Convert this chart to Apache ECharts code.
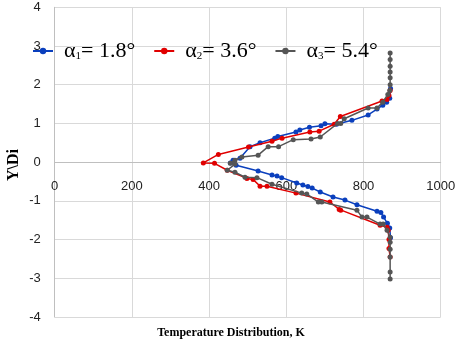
<!DOCTYPE html>
<html><head><meta charset="utf-8">
<script src="https://cdn.jsdelivr.net/npm/echarts@6/dist/echarts.min.js"></script>
<style>html,body{margin:0;padding:0;background:#fff}#c{width:459px;height:345px}</style>
</head><body><div id="c"></div>
<script>
const seriesNames = ['α1= 1.8°', 'α2= 3.6°', 'α3= 5.4°'];
const xTicks = [0, 200, 400, 600, 800, 1000];
const yTicks = [-4, -3, -2, -1, 0, 1, 2, 3, 4];

const tBlue = [870, 868, 860, 850, 835, 812, 770, 730, 700, 690, 660, 635, 625, 578, 570, 532, 506, 480, 462, 455, 470, 527, 563, 576, 588, 627, 643, 656, 667, 688, 721, 752, 783, 835, 845, 852, 862, 868, 870];
const yBlue = [1.9, 1.65, 1.55, 1.47, 1.37, 1.22, 1.08, 0.98, 0.99, 0.94, 0.9, 0.83, 0.78, 0.66, 0.62, 0.5, 0.4, 0.1, 0.05, -0.02, -0.08, -0.23, -0.33, -0.36, -0.4, -0.54, -0.59, -0.63, -0.67, -0.77, -0.9, -0.98, -1.1, -1.27, -1.3, -1.42, -1.58, -1.7, -1.95];

const tRed = [869, 866, 861, 848, 740, 724, 685, 661, 589, 563, 502, 424, 385, 414, 447, 498, 514, 532, 550, 625, 713, 737, 741, 843, 861, 864, 866, 866, 869];
const yRed = [1.85, 1.72, 1.62, 1.58, 1.18, 0.98, 0.8, 0.78, 0.62, 0.54, 0.39, 0.2, -0.02, -0.03, -0.21, -0.42, -0.45, -0.62, -0.62, -0.8, -1.03, -1.22, -1.24, -1.63, -1.68, -1.76, -2.0, -2.23, -2.45];

const tGray = [869, 869, 869, 869, 869, 869, 868, 863, 850, 835, 812, 750, 741, 733, 688, 664, 618, 580, 553, 527, 485, 467, 455, 467, 447, 467, 493, 524, 563, 640, 653, 683, 692, 783, 796, 809, 843, 851, 861, 869, 869, 869, 869, 869, 869];
const yGray = [2.82, 2.65, 2.48, 2.33, 2.18, 2.0, 1.85, 1.75, 1.55, 1.4, 1.4, 1.12, 1.0, 1.0, 0.65, 0.6, 0.58, 0.4, 0.4, 0.18, 0.13, 0.05, -0.03, -0.05, -0.21, -0.26, -0.39, -0.4, -0.57, -0.8, -0.82, -1.03, -1.03, -1.24, -1.42, -1.42, -1.6, -1.6, -1.76, -1.94, -2.07, -2.25, -2.45, -2.84, -3.02];

const colors = ['#0a3fbd', '#e00000', '#555555'];
const zip = (a, b) => a.map((v, i) => [v, b[i]]);
const datasets = [zip(tBlue, yBlue), zip(tRed, yRed), zip(tGray, yGray)];

const chart = echarts.init(document.getElementById('c'), null, {renderer: 'canvas'});
const serif = 'Liberation Serif';
const sans = 'Liberation Sans';
chart.setOption({
  animation: false,
  backgroundColor: '#fff',
  grid: {left: 54.7, right: 18.3, top: 7.3, bottom: 28, containLabel: false},
  xAxis: {
    type: 'value', min: xTicks[0], max: xTicks[xTicks.length - 1], interval: 200,
    position: 'bottom', offset: -155,
    axisLine: {show: true, onZero: false, lineStyle: {color: '#bfbfbf'}},
    axisTick: {show: false},
    axisLabel: {margin: 18, fontFamily: sans, fontSize: 13, color: '#222', formatter: v => String(v)},
    splitLine: {show: true, lineStyle: {color: '#d9d9d9'}}
  },
  yAxis: {
    type: 'value', min: yTicks[0], max: yTicks[yTicks.length - 1], interval: 1,
    axisLine: {show: true, onZero: false, lineStyle: {color: '#bfbfbf'}},
    axisTick: {show: false},
    axisLabel: {margin: 14, fontFamily: sans, fontSize: 13, color: '#222'},
    splitLine: {show: true, lineStyle: {color: '#d9d9d9'}}
  },
  legend: {
    left: 27, top: 35, itemWidth: 20, itemHeight: 8, itemGap: 18,
    data: seriesNames,
    formatter: function (name) {
      const m = name.match(/^α(\d)(.*)$/);
      return '{g|α}{s|' + m[1] + '}{a|' + m[2] + '}';
    },
    textStyle: {
      rich: {
        g: {fontFamily: serif, fontSize: 22, color: '#000', padding: [0, 0, 0, 6]},
        a: {fontFamily: serif, fontSize: 22, color: '#000'},
        s: {fontFamily: serif, fontSize: 11, color: '#000', verticalAlign: 'bottom', padding: [8, 0, 0, 0]}
      }
    }
  },
  graphic: [
    {type: 'text', x: 14, y: 165, rotation: Math.PI / 2, style: {text: 'Y\\Di', fontFamily: serif, fontWeight: 'bold', fontSize: 16, fill: '#000', align: 'center', verticalAlign: 'middle'}},
    {type: 'text', x: 231, y: 333, style: {text: 'Temperature Distribution, K', fontFamily: serif, fontWeight: 'bold', fontSize: 12, fill: '#000', align: 'center', verticalAlign: 'middle'}}
  ],
  series: datasets.map((d, i) => ({
    name: seriesNames[i], type: 'line', data: d,
    symbol: 'circle', symbolSize: 5, showSymbol: true,
    lineStyle: {color: colors[i], width: 1.5},
    itemStyle: {color: colors[i]},
    z: 2 + i
  }))
});
</script></body></html>
